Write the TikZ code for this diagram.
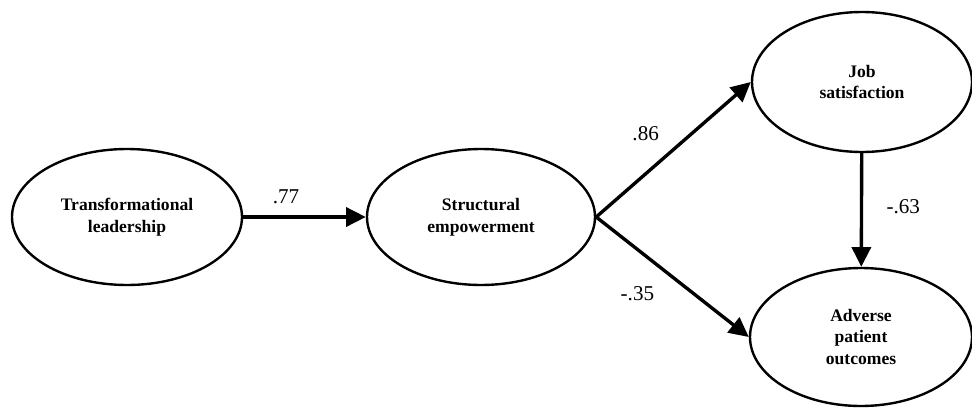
\documentclass[tikz,border=0pt]{standalone}
\usepackage{fontspec}
\setmainfont{Liberation Serif}
\usetikzlibrary{arrows.meta,positioning,shapes.geometric}
\begin{document}
\begin{tikzpicture}
[->, >={Triangle[length=14pt,width=13.5pt]}, line width=2.4pt,
construct/.style={
ellipse, draw, line width=1.7pt,
align=center, font=\fontsize{12.5}{15.5}\selectfont\bfseries},
lbl/.style={font=\fontsize{15}{17}\selectfont, inner sep=1pt}]
\useasboundingbox (0,0) rectangle (24.3,10.175);
\node (tl) at (3.175,4.75) [construct, minimum width=5.75cm, minimum height=3.4cm] {Transformational\\leadership};
\node (se) at (12.025,4.75) [construct, minimum width=5.7cm, minimum height=3.4cm] {Structural\\empowerment};
\node (js) at (21.55,8.125) [construct, minimum width=5.5cm, minimum height=3.5cm] {Job\\satisfaction};
\node (ap) at (21.525,1.75) [construct, minimum width=5.55cm, minimum height=3.45cm] {Adverse\\patient\\outcomes};

\draw (tl) -- (se) node [lbl,pos=0.35,above=0.25cm] (w1) {.77};
\draw (se.east) -- (js.west) node [lbl,pos=0.32,above=0.75cm] (w2) {.86};
\draw (se.east) -- (ap.west) node [lbl,pos=0.27,below=0.85cm] (w3) {-.35};
\draw (js) -- (ap) node [lbl,pos=0.47,right=0.55cm] (w4) {-.63};

\end{tikzpicture}
\end{document}
